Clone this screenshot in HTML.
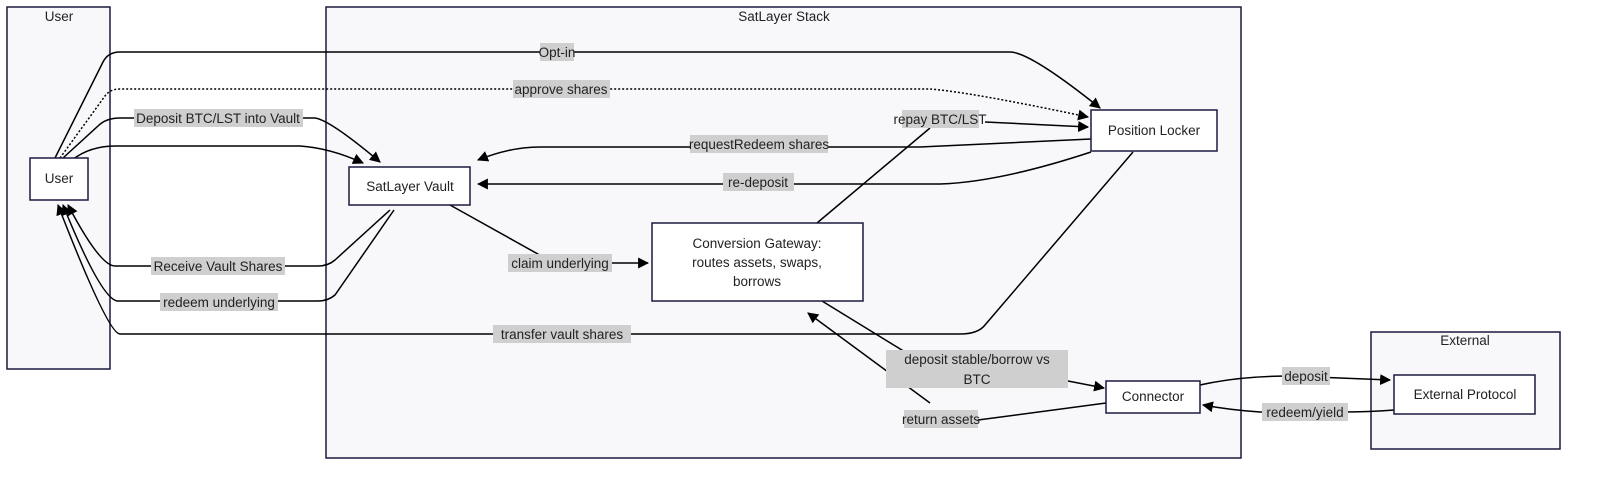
<!DOCTYPE html>
<html><head><style>
html,body{margin:0;padding:0;background:#fff;}
svg text{font-family:"Liberation Sans",sans-serif;font-size:13.5px;fill:#222;}
</style></head><body>
<svg width="1600" height="477" viewBox="0 0 1600 477" xmlns="http://www.w3.org/2000/svg">
<defs>
<marker id="a" viewBox="0 0 10 10" refX="9" refY="5" markerWidth="11" markerHeight="11" orient="auto-start-reverse" markerUnits="userSpaceOnUse"><path d="M0,0 L10,5 L0,10 z" fill="#000"/></marker>
</defs>
<g fill="#f8f8fb" stroke="#1a1a40" stroke-width="1.5">
<rect x="7" y="7" width="103" height="362"/>
<rect x="326" y="7" width="915" height="451"/>
<rect x="1371" y="332" width="189" height="117"/>
</g>
<g text-anchor="middle">
<text x="59" y="21">User</text>
<text x="784" y="21">SatLayer Stack</text>
<text x="1465" y="345">External</text>
</g>
<g fill="none" stroke="#000" stroke-width="1.5">
<path d="M55,158 L103,62 Q108,52 120,52 L1010,52 Q1030,52 1100,108" marker-end="url(#a)"/>
<path d="M60,158 L105,96 Q110,89 120,89 L930,89 Q970,92 1088,117" stroke-dasharray="2,2" marker-end="url(#a)"/>
<path d="M63,158 L98,126 Q106,118 120,118 L315,118 Q330,120 380,162" marker-end="url(#a)"/>
<path d="M72,160 Q90,146 115,146 L300,146 Q330,148 363,163" marker-end="url(#a)"/>
<path d="M390,210 L335,260 Q328,266 318,266 L115,266 Q100,266 68,205" marker-end="url(#a)"/>
<path d="M394,210 L335,295 Q328,301 318,301 L118,301 Q102,301 63,205" marker-end="url(#a)"/>
<path d="M1133,152 L985,325 Q978,334 960,334 L120,334 Q108,334 58,205" marker-end="url(#a)"/>
<path d="M1091,139 L920,147 L540,147 Q510,147 478,160" marker-end="url(#a)"/>
<path d="M1091,152 Q1000,182 940,184 L478,184" marker-end="url(#a)"/>
<path d="M817,223 L930,128"/>
<path d="M985,122 L1088,127" marker-end="url(#a)"/>
<path d="M450,205 L545,258 Q550,263 560,263 L648,263" marker-end="url(#a)"/>
<path d="M822,301 L910,355"/>
<path d="M1068,381 L1104,388" marker-end="url(#a)"/>
<path d="M1106,403 L978,420"/>
<path d="M930,403 L808,313" marker-end="url(#a)"/>
<path d="M1200,385 Q1240,376 1290,376 L1390,380" marker-end="url(#a)"/>
<path d="M1394,410 Q1370,412 1340,412 L1260,412 Q1230,410 1203,405" marker-end="url(#a)"/>
</g>
<g fill="#cfcfcf">
<rect x="540" y="43" width="34" height="18"/>
<rect x="513" y="80" width="97" height="18"/>
<rect x="134" y="109" width="169" height="18"/>
<rect x="151" y="257" width="134" height="18"/>
<rect x="160" y="293" width="118" height="18"/>
<rect x="493" y="325" width="138" height="18"/>
<rect x="690" y="135" width="138" height="18"/>
<rect x="723" y="173" width="71" height="18"/>
<rect x="902" y="110" width="77" height="18"/>
<rect x="508" y="254" width="104" height="18"/>
<rect x="886" y="350" width="182" height="38"/>
<rect x="904" y="410" width="74" height="18"/>
<rect x="1282" y="367" width="48" height="18"/>
<rect x="1262" y="403" width="86" height="18"/>
</g>
<g text-anchor="middle">
<text x="557" y="57">Opt-in</text>
<text x="561" y="94">approve shares</text>
<text x="218" y="123">Deposit BTC/LST into Vault</text>
<text x="218" y="271">Receive Vault Shares</text>
<text x="219" y="307">redeem underlying</text>
<text x="562" y="339">transfer vault shares</text>
<text x="759" y="149">requestRedeem shares</text>
<text x="758" y="187">re-deposit</text>
<text x="940" y="124">repay BTC/LST</text>
<text x="560" y="268">claim underlying</text>
<text x="977" y="364">deposit stable/borrow vs</text>
<text x="977" y="384">BTC</text>
<text x="941" y="424">return assets</text>
<text x="1306" y="381">deposit</text>
<text x="1305" y="417">redeem/yield</text>
</g>
<g fill="#fff" stroke="#1a1a40" stroke-width="1.5">
<rect x="30" y="158" width="58" height="42"/>
<rect x="349" y="167" width="121" height="38"/>
<rect x="1091" y="110" width="126" height="41"/>
<rect x="652" y="223" width="211" height="78"/>
<rect x="1106" y="381" width="94" height="32"/>
<rect x="1394" y="375" width="141" height="39"/>
</g>
<g text-anchor="middle">
<text x="59" y="183">User</text>
<text x="410" y="191">SatLayer Vault</text>
<text x="1154" y="135">Position Locker</text>
<text x="757" y="248">Conversion Gateway:</text>
<text x="757" y="267">routes assets, swaps,</text>
<text x="757" y="286">borrows</text>
<text x="1153" y="401">Connector</text>
<text x="1465" y="399">External Protocol</text>
</g>
</svg>
</body></html>
